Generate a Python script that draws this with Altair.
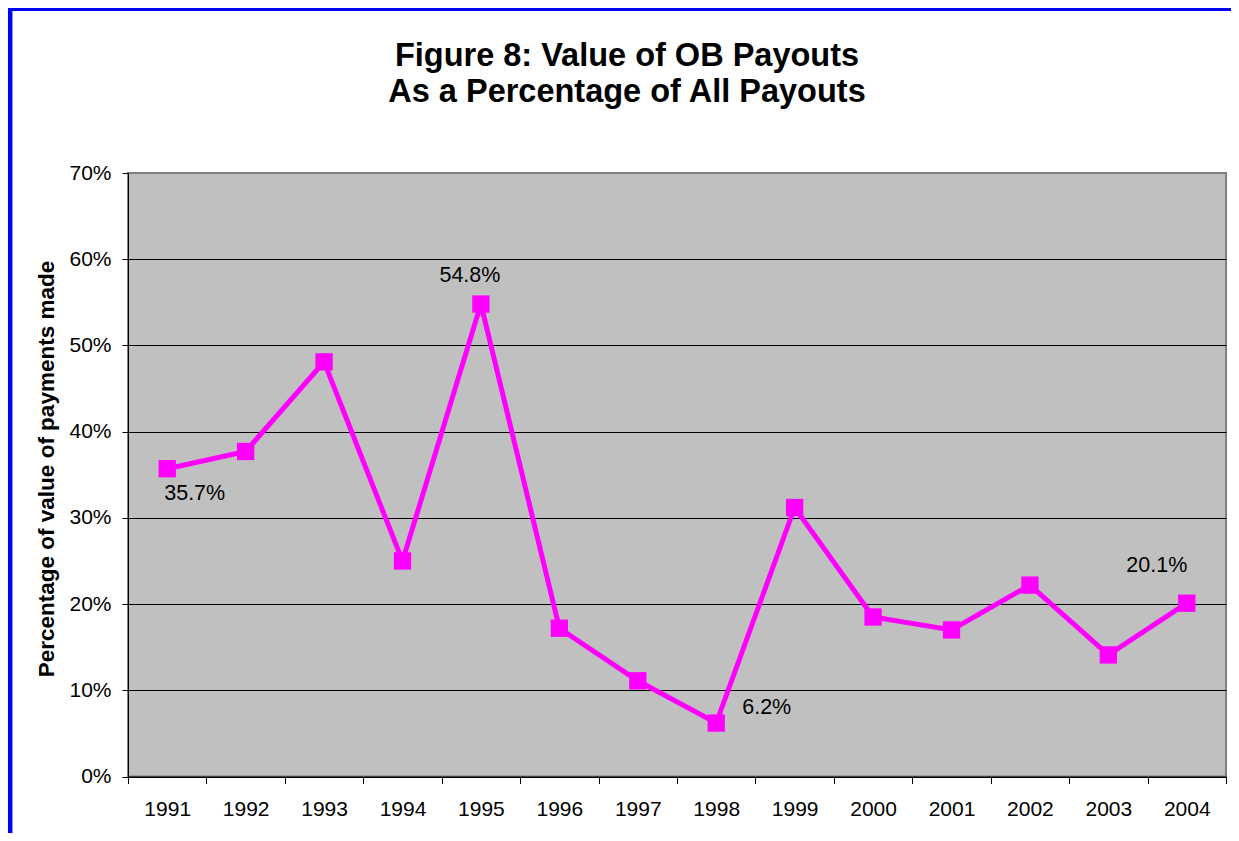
import altair as alt
import pandas as pd

# ---- data ----
years = [1991, 1992, 1993, 1994, 1995, 1996, 1997, 1998, 1999, 2000, 2001, 2002, 2003, 2004]
values = [35.7, 37.7, 48.1, 25.0, 54.8, 17.2, 11.1, 6.2, 31.2, 18.5, 17.0, 22.2, 14.1, 20.1]
title_lines = ["Figure 8: Value of OB Payouts", "As a Percentage of All Payouts"]
y_title = "Percentage of value of payments made"
y_ticks = [0.0, 0.1, 0.2, 0.3, 0.4, 0.5, 0.6, 0.7]
labelled_years = [1991, 1995, 1998, 2004]

# ---- layout / style ----
W, H = 1098, 603.5
FONT = "Liberation Sans"
MAGENTA = "#FF00FF"

df = pd.DataFrame({"year": years, "share": [v / 100 for v in values]})
df["label"] = [f"{v:.1f}%" for v in values]

bounds = [y - 0.5 for y in years] + [years[-1] + 0.5]

x_enc = alt.X(
    "year:Q",
    scale=alt.Scale(domain=[bounds[0], bounds[-1]], nice=False, zero=False),
    axis=alt.Axis(
        values=bounds, title=None, grid=False, tickSize=7, tickColor="black",
        domainColor="black", labelOffset=W / len(years) / 2,
        labelExpr="datum.value > 2004 ? '' : format(datum.value + 0.5, 'd')",
        labelPadding=15, labelFontSize=21, labelFont=FONT, labelColor="black",
        labelFlush=False, labelOverlap=False,
    ),
)
y_enc = alt.Y(
    "share:Q",
    scale=alt.Scale(domain=[0, 0.7], nice=False, zero=True),
    axis=alt.Axis(
        values=y_ticks, format=".0%", title=y_title, titleFont=FONT,
        titleFontSize=22.5, titleFontWeight="bold", titleColor="black",
        titleX=-74.5, titleY=295.5, titleBaseline="alphabetic", titleAngle=270,
        grid=True,
        gridColor={"condition": {"test": "datum.value > 0.69", "value": "#808080"}, "value": "#000000"},
        gridWidth=1, gridOpacity=1, tickSize=6, tickColor="black", domainColor="black",
        labelPadding=11, labelFontSize=21, labelFont=FONT, labelColor="black",
        labelOverlap=False, labelFlush=False,
    ),
)

base = alt.Chart(df)
line = base.mark_line(color=MAGENTA, strokeWidth=5).encode(x=x_enc, y=y_enc)
pts = base.mark_point(shape="square", filled=True, size=300, color=MAGENTA, opacity=1).encode(
    x="year:Q", y="share:Q"
)

label_style = {
    1991: dict(align="left", dx=-3, dy=31),
    1995: dict(align="center", dx=-11, dy=-22),
    1998: dict(align="left", dx=26, dy=-9),
    2004: dict(align="center", dx=-30, dy=-31),
}
label_layers = []
for yr in labelled_years:
    label_layers.append(
        base.transform_filter(alt.datum.year == yr)
        .mark_text(font=FONT, fontSize=21.5, color="black", baseline="alphabetic", **label_style[yr])
        .encode(x="year:Q", y="share:Q", text="label:N")
    )

frame_df = pd.DataFrame({"k": [0]})
left_border = alt.Chart(frame_df).mark_rule(color="#0000FF", strokeWidth=4.5).encode(
    x=alt.value(-117.8), y=alt.value(-165), y2=alt.value(H + 70)
)
top_border = alt.Chart(frame_df).mark_rule(color="#0000FF", strokeWidth=6).encode(
    x=alt.value(-122), x2=alt.value(W + 20), y=alt.value(-165)
)

chart = (
    alt.layer(left_border, top_border, line, pts, *label_layers)
    .properties(
        width=W,
        height=H,
        title=alt.TitleParams(
            text=title_lines, fontSize=32.5, font=FONT, fontWeight="bold", color="black",
            anchor="middle", frame="group", dx=-50, offset=0, dy=103.5, lineHeight=36,
        ),
        autosize=alt.AutoSizeParams(type="none"),
        padding={"left": 120, "top": 165, "right": 5, "bottom": 56},
        background="white",
    )
    .configure_view(fill="#C0C0C0", stroke="#808080", strokeWidth=2)
)

chart.save("out.html", embed_options={"renderer": "svg", "actions": False})
